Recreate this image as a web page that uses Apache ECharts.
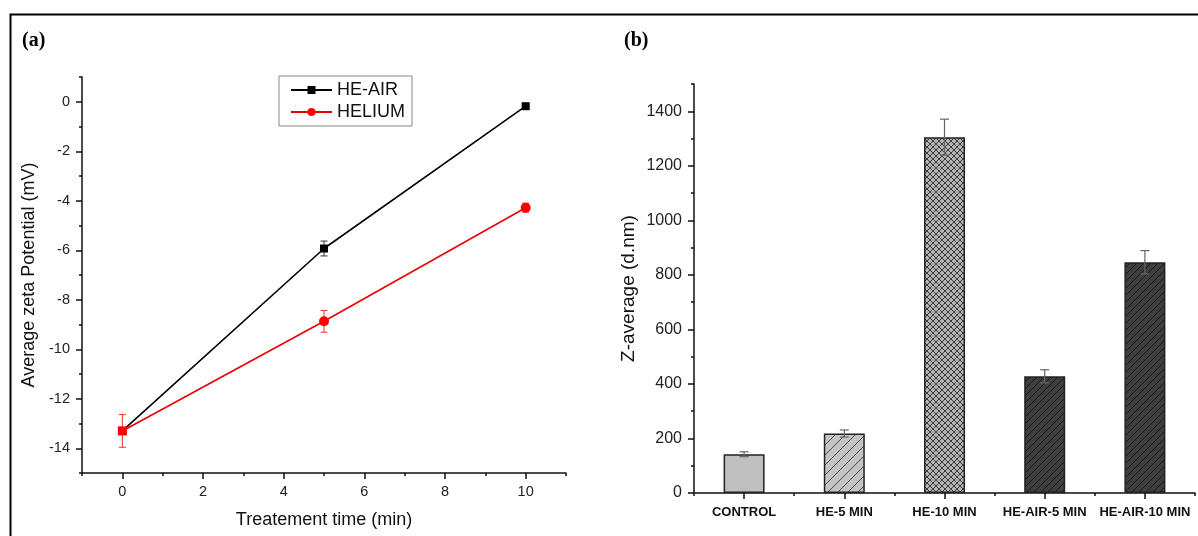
<!DOCTYPE html>
<html>
<head>
<meta charset="utf-8">
<script src="https://cdn.jsdelivr.net/npm/echarts@6/dist/echarts.min.js"></script>
<style>
  html, body { margin: 0; padding: 0; background: #fff; }
  #main { width: 1198px; height: 536px; }
</style>
</head>
<body>
<div id="main"></div>
<script>
// (a) zeta potential vs treatment time
var timeMin = [0, 5, 10];
var heAirZeta = [-13.3, -5.93, -0.18];
var heAirErr = [0.1, 0.3, 0.08];
var heliumZeta = [-13.3, -8.87, -4.28];
var heliumErr = [0.66, 0.44, 0.18];
var xMajorA = [0, 2, 4, 6, 8, 10];
var xMinorA = [-1, 1, 3, 5, 7, 9, 11];
var yMajorA = [-14, -12, -10, -8, -6, -4, -2, 0];
var yMinorA = [-15, -13, -11, -9, -7, -5, -3, -1, 1];

// (b) Z-average per treatment
var treatments = ['CONTROL', 'HE-5 MIN', 'HE-10 MIN', 'HE-AIR-5 MIN', 'HE-AIR-10 MIN'];
var zAverage = [142, 218, 1305, 428, 846];
var zAverageErr = [9, 13, 66, 24, 43];
var yMajorB = [0, 200, 400, 600, 800, 1000, 1200, 1400];
var yMinorB = [100, 300, 500, 700, 900, 1100, 1300, 1500];

var FONT = 'Arial, "Liberation Sans", sans-serif';

// hatch fills (Origin style)
function hatch(bg, fg, size, cross) {
  var c = document.createElement('canvas');
  c.width = size; c.height = size;
  var g = c.getContext('2d');
  g.fillStyle = bg; g.fillRect(0, 0, size, size);
  g.strokeStyle = fg; g.lineWidth = 1;
  g.beginPath();
  g.moveTo(-1, size + 1); g.lineTo(size + 1, -1);
  g.moveTo(-1, 1); g.lineTo(1, -1);
  g.moveTo(size - 1, size + 1); g.lineTo(size + 1, size - 1);
  if (cross) {
    g.moveTo(-1, -1); g.lineTo(size + 1, size + 1);
    g.moveTo(size - 1, -1); g.lineTo(size + 1, 1);
    g.moveTo(-1, size - 1); g.lineTo(1, size + 1);
  }
  g.stroke();
  return { image: c, repeat: 'repeat' };
}

var barFills = [
  '#c0c0c0',
  hatch('#c4c4c4', '#4a4a4a', 10, false),
  hatch('#b4b4b4', '#3a3a3a', 6, true),
  hatch('#3e3e3e', '#1a1a1a', 7, false),
  hatch('#3e3e3e', '#1a1a1a', 7, false)
];

function errorBar(cap, width) {
  return function (params, api) {
    var x = api.value(0), v = api.value(1), e = api.value(2);
    var top = api.coord([x, v + e]);
    var bot = api.coord([x, v - e]);
    var style = { stroke: api.visual('color'), lineWidth: width };
    return {
      type: 'group',
      children: [
        { type: 'line', shape: { x1: top[0], y1: top[1], x2: bot[0], y2: bot[1] }, style: style },
        { type: 'line', shape: { x1: top[0] - cap, y1: top[1], x2: top[0] + cap, y2: top[1] }, style: style },
        { type: 'line', shape: { x1: bot[0] - cap, y1: bot[1], x2: bot[0] + cap, y2: bot[1] }, style: style }
      ]
    };
  };
}

function plain(v) { return String(v); }

var myChart = echarts.init(document.getElementById('main'));

var axisLine = { show: true, onZero: false, lineStyle: { color: '#111', width: 1.5 } };
var noLine = { show: false, onZero: false };
var tickStyle = { color: '#111', width: 1.5 };

var option = {
  animation: false,
  backgroundColor: '#fff',
  textStyle: { fontFamily: FONT },
  graphic: [
    { type: 'rect', left: 8, top: 12, shape: { width: 1230, height: 560 }, style: { fill: 'none', stroke: '#000', lineWidth: 2 }, silent: true },
    { type: 'text', left: 22, top: 31, style: { text: '(a)', font: 'bold 20px "Liberation Serif", "Times New Roman", serif', fill: '#000' } },
    { type: 'text', left: 624, top: 31, style: { text: '(b)', font: 'bold 20px "Liberation Serif", "Times New Roman", serif', fill: '#000' } }
  ],
  legend: {
    data: ['HE-AIR', 'HELIUM'],
    orient: 'vertical',
    left: 279, top: 76,
    padding: [5, 7, 5, 11],
    itemGap: 4,
    itemWidth: 41, itemHeight: 10,
    borderColor: '#888', borderWidth: 1,
    textStyle: { fontSize: 18, color: '#111', fontFamily: FONT }
  },
  grid: [
    { left: 82, top: 77, width: 484, height: 396 },
    { left: 694, top: 84, width: 501, height: 409 }
  ],
  xAxis: [
    {
      gridIndex: 0, type: 'value', min: -1, max: 11, position: 'bottom',
      name: 'Treatement time (min)', nameLocation: 'middle', nameGap: 38,
      nameTextStyle: { fontSize: 18, color: '#111' },
      axisLine: axisLine,
      axisTick: { show: true, length: 6, customValues: xMajorA, lineStyle: tickStyle },
      axisLabel: { customValues: xMajorA, formatter: plain, fontSize: 14.5, color: '#222', margin: 11 },
      splitLine: { show: false }
    },
    {
      gridIndex: 0, type: 'value', min: -1, max: 11, position: 'bottom',
      axisLine: noLine,
      axisTick: { show: true, length: 3, customValues: xMinorA, lineStyle: tickStyle },
      axisLabel: { show: false },
      splitLine: { show: false }
    },
    {
      gridIndex: 1, type: 'category', data: treatments, position: 'bottom',
      axisLine: axisLine,
      axisTick: { show: true, alignWithLabel: true, interval: 0, length: 6, lineStyle: tickStyle },
      axisLabel: { interval: 0, fontSize: 13, fontWeight: 'bold', color: '#111', margin: 13 }
    },
    {
      gridIndex: 1, type: 'category', data: treatments, position: 'bottom',
      axisLine: noLine,
      axisTick: { show: true, interval: 0, length: 3, lineStyle: tickStyle },
      axisLabel: { show: false }
    }
  ],
  yAxis: [
    {
      gridIndex: 0, type: 'value', min: -15, max: 1, position: 'left',
      name: 'Average zeta Potential (mV)', nameLocation: 'middle', nameGap: 44,
      nameTextStyle: { fontSize: 18, color: '#111' },
      axisLine: axisLine,
      axisTick: { show: true, length: 6, customValues: yMajorA, lineStyle: tickStyle },
      axisLabel: { customValues: yMajorA, formatter: plain, fontSize: 14.5, color: '#222', margin: 12 },
      splitLine: { show: false }
    },
    {
      gridIndex: 0, type: 'value', min: -15, max: 1, position: 'left',
      axisLine: noLine,
      axisTick: { show: true, length: 3, customValues: yMinorA, lineStyle: tickStyle },
      axisLabel: { show: false },
      splitLine: { show: false }
    },
    {
      gridIndex: 1, type: 'value', min: 0, max: 1500, position: 'left',
      name: 'Z-average (d.nm)', nameLocation: 'middle', nameGap: 56,
      nameTextStyle: { fontSize: 19, color: '#111' },
      axisLine: axisLine,
      axisTick: { show: true, length: 6, customValues: yMajorB, lineStyle: tickStyle },
      axisLabel: { customValues: yMajorB, formatter: plain, fontSize: 16, color: '#222', margin: 12 },
      splitLine: { show: false }
    },
    {
      gridIndex: 1, type: 'value', min: 0, max: 1500, position: 'left',
      axisLine: noLine,
      axisTick: { show: true, length: 3, customValues: yMinorB, lineStyle: tickStyle },
      axisLabel: { show: false },
      splitLine: { show: false }
    }
  ],
  series: [
    {
      name: 'HE-AIR err', type: 'custom', xAxisIndex: 0, yAxisIndex: 0,
      renderItem: errorBar(3.5, 1), itemStyle: { color: '#333' }, z: 2,
      encode: { x: 0, y: 1 },
      data: timeMin.map(function (t, i) { return [t, heAirZeta[i], heAirErr[i]]; })
    },
    {
      name: 'HE-AIR', type: 'line', xAxisIndex: 0, yAxisIndex: 0,
      symbol: 'rect', symbolSize: 8, z: 3,
      itemStyle: { color: '#000' }, lineStyle: { color: '#000', width: 1.6 },
      data: timeMin.map(function (t, i) { return [t, heAirZeta[i]]; })
    },
    {
      name: 'HELIUM err', type: 'custom', xAxisIndex: 0, yAxisIndex: 0,
      renderItem: errorBar(3.5, 1), itemStyle: { color: '#e83030' }, z: 4,
      encode: { x: 0, y: 1 },
      data: timeMin.map(function (t, i) { return [t, heliumZeta[i], heliumErr[i]]; })
    },
    {
      name: 'HELIUM', type: 'line', xAxisIndex: 0, yAxisIndex: 0,
      symbol: 'circle', symbolSize: 10, z: 5,
      itemStyle: { color: '#ff0000' }, lineStyle: { color: '#e80000', width: 1.6 },
      data: timeMin.map(function (t, i) {
        return i === 0 ? { value: [t, heliumZeta[i]], symbol: 'rect', symbolSize: 9 } : [t, heliumZeta[i]];
      })
    },
    {
      name: 'Z-average', type: 'bar', xAxisIndex: 2, yAxisIndex: 2,
      barWidth: 41,
      data: zAverage.map(function (v, i) {
        return { value: v, itemStyle: { color: barFills[i], borderColor: '#222', borderWidth: 1.5 } };
      })
    },
    {
      name: 'Z-average err', type: 'custom', xAxisIndex: 2, yAxisIndex: 2,
      renderItem: errorBar(4.5, 1.2), itemStyle: { color: '#666' }, z: 4,
      encode: { x: 0, y: 1 },
      data: zAverage.map(function (v, i) { return [i, v, zAverageErr[i]]; })
    }
  ]
};

myChart.setOption(option);
</script>
</body>
</html>
